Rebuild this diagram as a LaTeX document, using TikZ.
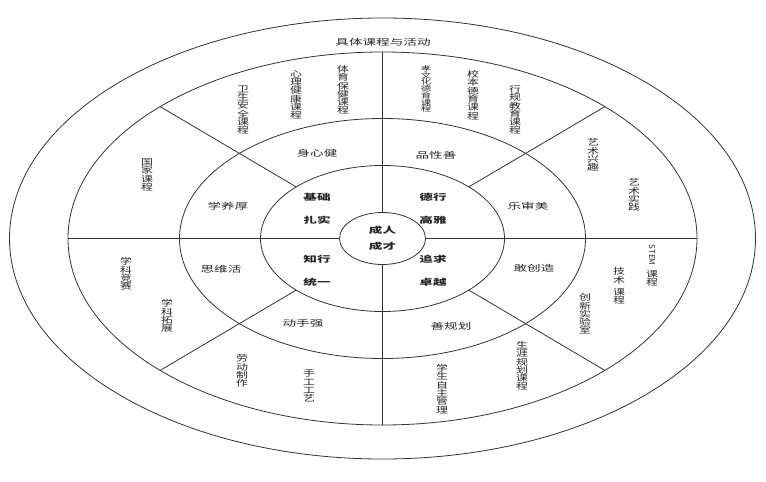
\documentclass[tikz,border=0pt]{standalone}
\usepackage{fontspec}
\usepackage{graphicx}
\usetikzlibrary{shapes.geometric}
\newfontfamily\cjk{Noto Sans CJK SC}
\newcommand{\hz}[1]{\scalebox{1.6}[1]{#1}}
\newcommand{\vstack}[4]{\scalebox{#1}[1]{\vbox{\fontsize{#2}{#3}\selectfont\lineskiplimit=-50pt\lineskip=0pt\hsize=#2pt\parindent=0pt\centering #4\par}}}
\newcommand{\vt}[1]{\vstack{1.4}{8.5}{8.3}{#1}}
\begin{document}
\begin{tikzpicture}[x=1pt,y=-1pt,line width=0.8pt,
  every node/.style={font=\cjk\fontsize{8.5}{10}\selectfont,inner sep=0pt,text=black!85},
  ring/.style={draw=black!80},
  bold/.style={font=\cjk\bfseries\fontsize{8.5}{10}\selectfont}]
\useasboundingbox (0,0) rectangle (766,482);
\fill[white] (0,0) rectangle (766,482);
\coordinate (O) at (382.5,238.5);
\draw[ring] (O) ellipse [x radius=373pt, y radius=220.5pt];
\draw[ring] (O) ellipse [x radius=314.5pt, y radius=186.5pt];
\draw[ring] (O) ellipse [x radius=203pt, y radius=120pt];
\draw[ring] (O) ellipse [x radius=122pt, y radius=73pt];
\node[ellipse, draw=black!80, minimum width=86pt, minimum height=52pt, inner sep=0pt] (core) at (O) {};
% axes
\coordinate (vt) at (382.5,52);
\coordinate (vb) at (382.5,425);
\coordinate (hl) at (68,238.5);
\coordinate (hr) at (697,238.5);
\draw[ring] (vt) -- (core.north);
\draw[ring] (core.south) -- (vb);
\draw[ring] (hl) -- (core.west);
\draw[ring] (core.east) -- (hr);
% diagonals
\coordinate (ur1) at (468.8,186.9); \coordinate (ur2) at (604.9,106.6);
\coordinate (ul1) at (296.2,186.9); \coordinate (ul2) at (160.1,106.6);
\coordinate (ll1) at (296.2,290.1); \coordinate (ll2) at (160.1,370.4);
\coordinate (lr1) at (468.8,290.1); \coordinate (lr2) at (604.9,370.4);
\draw[ring] (ur1) -- (ur2);
\draw[ring] (ul1) -- (ul2);
\draw[ring] (ll1) -- (ll2);
\draw[ring] (lr1) -- (lr2);
% centre
\node[bold] (c1) at (382.5,230) {\hz{成人}};
\node[bold] (c2) at (382.5,246) {\hz{成才}};
\node[bold] (q1a) at (317,197) {\hz{基础}};
\node[bold] (q1b) at (317,220) {\hz{扎实}};
\node[bold] (q2a) at (433,197) {\hz{德行}};
\node[bold] (q2b) at (433,220) {\hz{高雅}};
\node[bold] (q3a) at (317,259) {\hz{知行}};
\node[bold] (q3b) at (317,282) {\hz{统一}};
\node[bold] (q4a) at (433,259) {\hz{追求}};
\node[bold] (q4b) at (433,282) {\hz{卓越}};
% second ring
\node (s1) at (317,153) {\hz{身心健}};
\node (s2) at (436,155) {\hz{品性善}};
\node (s3) at (228,206) {\hz{学养厚}};
\node (s4) at (528,206) {\hz{乐审美}};
\node (s5) at (221,269) {\hz{思维活}};
\node (s6) at (534,268) {\hz{敢创造}};
\node (s7) at (303,323) {\hz{动手强}};
\node (s8) at (451,326) {\hz{善规划}};
% top title
\node (title) at (383,42) {\hz{具体课程与活动}};
% third ring, vertical texts
\node (t1) at (243,110) {\vt{卫\\生\\安\\全\\课\\程}};
\node (t2) at (296,95) {\vt{心\\理\\健\\康\\课\\程}};
\node (t3) at (343,90) {\vt{体\\育\\保\\健\\课\\程}};
\node (t4) at (426,89) {\vstack{1.5}{7}{6.7}{孝\\文\\化\\德\\育\\课\\程}};
\node (t5) at (473,95) {\vt{校\\本\\德\\育\\课\\程}};
\node (t6) at (515,110) {\vt{行\\规\\教\\育\\课\\程}};
\node (t7) at (593,155) {\vt{艺\\术\\兴\\趣}};
\node (t8) at (634,195) {\vt{艺\\术\\实\\践}};
\node[rotate=-90, font=\cjk\fontsize{8}{10}\selectfont] (t9a) at (652,255) {STEM};
\node (t9b) at (652,278) {\vt{课\\程}};
\node (t10) at (619,286) {\vt{技\\术\\[4pt]课\\程}};
\node (t11) at (585,314) {\vt{创\\新\\实\\验\\室}};
\node (t12) at (522,366) {\vt{生\\涯\\规\\划\\课\\程}};
\node (t13) at (442,389) {\vt{学\\生\\自\\主\\管\\理}};
\node (t14) at (309,386) {\vt{手\\工\\工\\艺}};
\node (t15) at (242,371) {\vt{劳\\动\\制\\作}};
\node (t16) at (126,274) {\vt{学\\科\\竞\\赛}};
\node (t17) at (167,316) {\vt{学\\科\\拓\\展}};
\node (t18) at (147,175) {\vt{国\\家\\课\\程}};
\end{tikzpicture}
\end{document}
